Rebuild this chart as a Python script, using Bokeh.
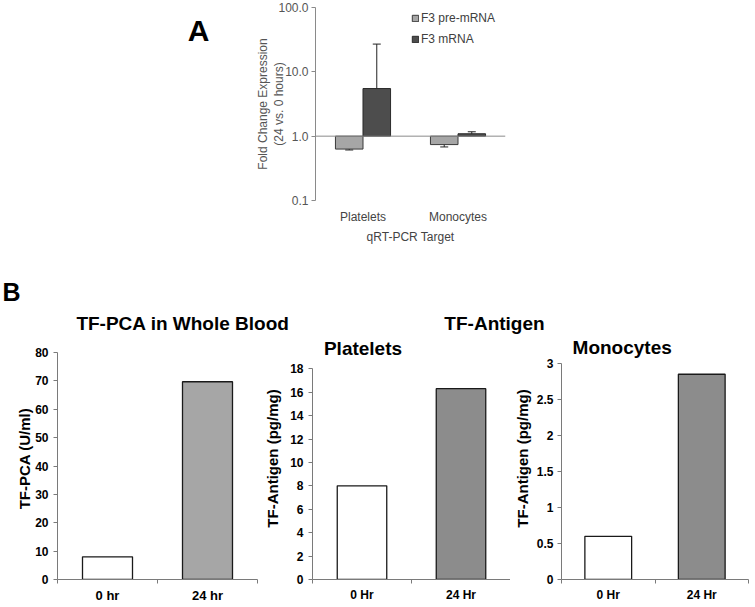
import math
from bokeh.plotting import figure
from bokeh.models import (Range1d, FixedTicker, CustomJSTickFormatter, Span, Whisker, TeeHead,
                          ColumnDataSource, Label, LinearAxis)
from bokeh.layouts import column, row
from bokeh.embed import file_html
from bokeh.resources import INLINE

# ---------------- data ----------------
# Panel A (log scale fold change)
a_categories = ["Platelets", "Monocytes"]
a_series = ["F3 pre-mRNA", "F3 mRNA"]
a_pre = [0.63, 0.74]
a_pre_low = [0.61, 0.68]
a_pre_high = [0.645, 0.85]
a_mrna = [5.5, 1.09]
a_mrna_low = [1.2, 1.02]
a_mrna_high = [27.0, 1.17]
a_yticks = [0.1, 1, 10, 100]

# Panel B
b1_labels = ["0 hr", "24 hr"]
b1_values = [8.0, 69.7]
b1_ticks = [0, 10, 20, 30, 40, 50, 60, 70, 80]
b2_labels = ["0 Hr", "24 Hr"]
b2_values = [8.0, 16.3]
b2_ticks = [0, 2, 4, 6, 8, 10, 12, 14, 16, 18]
b3_labels = ["0 Hr", "24 Hr"]
b3_values = [0.6, 2.85]
b3_ticks = [0, 0.5, 1, 1.5, 2, 2.5, 3]

SANS = "Liberation Sans"

# ---------------- "A" tag ----------------
aHead = figure(width=240, height=250, x_range=Range1d(0, 1), y_range=Range1d(0, 1),
               x_axis_location=None, y_axis_location=None,
               min_border_left=0, min_border_right=0, min_border_top=7, min_border_bottom=50,
               output_backend="svg", toolbar_location=None)
aHead.grid.visible = False
aHead.outline_line_color = None
aHead.add_layout(Label(x=198, y=170, x_units="screen", y_units="screen", text="A",
                       text_font=SANS, text_font_style="bold", text_font_size="30px",
                       text_align="center", text_baseline="middle", text_color="black"))

# ---------------- Panel A ----------------
pA = figure(width=280, height=250, y_axis_type="log",
            x_range=Range1d(0, 2), y_range=Range1d(0.1, 100),
            output_backend="svg", toolbar_location=None,
            min_border_left=75, min_border_right=15, min_border_top=7, min_border_bottom=50)
pA.grid.visible = False
pA.outline_line_color = None

xc = [i + 0.5 for i in range(len(a_categories))]
bw = 0.29
src_pre = ColumnDataSource(dict(x=[v - bw / 2 for v in xc], top=a_pre, lo=a_pre_low, hi=a_pre_high))
src_mrna = ColumnDataSource(dict(x=[v + bw / 2 for v in xc], top=a_mrna, lo=a_mrna_low, hi=a_mrna_high))

pA.vbar(x="x", width=bw, bottom=1, top="top", source=src_pre,
        fill_color="#a6a6a6", line_color="#3a3a3a", line_width=1, legend_label=a_series[0])
pA.vbar(x="x", width=bw, bottom=1, top="top", source=src_mrna,
        fill_color="#4d4d4d", line_color="#2a2a2a", line_width=1, legend_label=a_series[1])

for src in (src_pre, src_mrna):
    pA.add_layout(Whisker(source=src, base="x", upper="hi", lower="lo",
                          line_color="#222222", line_width=1,
                          upper_head=TeeHead(size=8, line_color="#222222", line_width=1),
                          lower_head=TeeHead(size=8, line_color="#222222", line_width=1)))

pA.add_layout(Span(location=1, dimension="width", line_color="#8a8a8a", line_width=1))

yax = pA.yaxis[0]
yax.ticker = FixedTicker(ticks=a_yticks, minor_ticks=[])
yax.formatter = CustomJSTickFormatter(code="return tick.toFixed(1);")
yax.axis_line_color = "#8a8a8a"
yax.major_tick_line_color = "#8a8a8a"
yax.major_tick_out = 4
yax.major_tick_in = 0
yax.major_label_text_font = SANS
yax.major_label_text_font_size = "12px"
yax.major_label_text_color = "#555555"
yax.major_label_standoff = 3
yax.axis_label = "Fold Change Expression\n(24 vs. 0 hours)"
yax.axis_label_text_font = SANS
yax.axis_label_text_font_style = "normal"
yax.axis_label_text_font_size = "12px"
yax.axis_label_text_color = "#555555"
yax.axis_label_standoff = -11

xax = pA.xaxis[0]
xax.ticker = FixedTicker(ticks=xc, minor_ticks=[])
xax.formatter = CustomJSTickFormatter(args=dict(labels=a_categories),
                                      code="return labels[Math.floor(tick)];")
xax.axis_line_color = None
xax.major_tick_line_color = None
xax.minor_tick_line_color = None
xax.major_tick_out = 0
xax.major_tick_in = 0
xax.minor_tick_out = 0
xax.major_label_standoff = 9
xax.major_label_text_font = SANS
xax.major_label_text_font_size = "12px"
xax.major_label_text_color = "#444444"
xax.axis_label = "qRT-PCR Target"
xax.axis_label_text_font = SANS
xax.axis_label_text_font_style = "normal"
xax.axis_label_text_font_size = "12px"
xax.axis_label_text_color = "#444444"
xax.axis_label_standoff = 3

lg = pA.legend[0]
lg.location = (96, 154)
lg.padding = 0
lg.margin = 0
lg.spacing = 7
lg.glyph_width = 8
lg.glyph_height = 8
lg.label_height = 14
lg.label_standoff = 2
lg.label_text_font = SANS
lg.label_text_font_size = "12px"
lg.label_text_color = "#404040"
lg.border_line_alpha = 0
lg.background_fill_alpha = 0

# ---------------- header for panel B ----------------
hdr = figure(width=753, height=86, x_range=Range1d(0, 1), y_range=Range1d(0, 1),
             x_axis_location=None, y_axis_location=None, min_border=0,
             output_backend="svg", toolbar_location=None)
hdr.grid.visible = False
hdr.outline_line_color = None
hdr.add_layout(Label(x=2, y=45, x_units="screen", y_units="screen", text="B",
                     text_font=SANS, text_font_style="bold", text_font_size="25px",
                     text_align="left", text_baseline="middle", text_color="black"))
hdr.add_layout(Label(x=182.5, y=13, x_units="screen", y_units="screen", text="TF-PCA in Whole Blood",
                     text_font=SANS, text_font_style="bold", text_font_size="19px",
                     text_align="center", text_baseline="middle", text_color="black"))
hdr.add_layout(Label(x=494, y=13, x_units="screen", y_units="screen", text="TF-Antigen",
                     text_font=SANS, text_font_style="bold", text_font_size="19px",
                     text_align="center", text_baseline="middle", text_color="black"))

B_HEIGHT = 269
B_TOP = 1
B_BOTTOM = 26


def bar_panel(width, mb_left, mb_right, labels, values, ticks, headroom, fill,
              xlab_size, ylab, ylab_standoff, tick_standoff=5, title=None, title_x=0, title_y=0):
    p = figure(width=width, height=B_HEIGHT, x_range=Range1d(0, 2),
               y_range=Range1d(ticks[0], headroom),
               output_backend="svg", toolbar_location=None,
               min_border_left=mb_left, min_border_right=mb_right,
               min_border_top=B_TOP, min_border_bottom=B_BOTTOM)
    p.grid.visible = False
    p.outline_line_color = None
    xs = [i + 0.5 for i in range(len(labels))]
    src = ColumnDataSource(dict(x=xs, top=values, fill=["white", fill]))
    p.vbar(x="x", width=0.5, bottom=0, top="top", source=src, fill_color="fill",
           line_color="#1a1a1a", line_width=1.3)
    xa = p.xaxis[0]
    xa.ticker = FixedTicker(ticks=xs, minor_ticks=[0, 1, 2])
    xa.formatter = CustomJSTickFormatter(args=dict(labels=labels),
                                         code="return labels[Math.floor(tick)];")
    xa.axis_line_color = "#7a7a7a"
    xa.major_tick_out = 0
    xa.major_tick_in = 0
    xa.minor_tick_out = 4
    xa.minor_tick_in = 0
    xa.minor_tick_line_color = "#7a7a7a"
    xa.major_label_standoff = 4
    xa.major_label_text_font = SANS
    xa.major_label_text_font_style = "bold"
    xa.major_label_text_font_size = xlab_size
    xa.major_label_text_color = "black"
    ya = p.yaxis[0]
    ya.bounds = (ticks[0], ticks[-1])
    ya.ticker = FixedTicker(ticks=ticks, minor_ticks=[])
    ya.formatter = CustomJSTickFormatter(code="return String(tick);")
    ya.axis_line_color = "#7a7a7a"
    ya.major_tick_line_color = "#7a7a7a"
    ya.major_tick_out = 4
    ya.major_tick_in = 0
    ya.major_label_standoff = tick_standoff
    ya.major_label_text_font = SANS
    ya.major_label_text_font_style = "bold"
    ya.major_label_text_font_size = "12px"
    ya.major_label_text_color = "black"
    if ylab:
        ya.axis_label = ylab
        ya.axis_label_text_font = SANS
        ya.axis_label_text_font_style = "bold"
        ya.axis_label_text_font_size = "15px"
        ya.axis_label_text_color = "black"
        ya.axis_label_standoff = ylab_standoff
    if title:
        p.add_layout(Label(x=title_x, y=title_y, x_units="screen", y_units="screen", text=title,
                           text_font=SANS, text_font_style="bold", text_font_size="19px",
                           text_align="center", text_baseline="middle", text_color="black"))
    return p


b1 = bar_panel(258, 57, 1, b1_labels, b1_values, b1_ticks, 85.3, "#a6a6a6", "13px",
               None, 0)
# title axis for panel B1 (label sits lower than the axis middle, as in the original)
b1_title_axis = LinearAxis(ticker=FixedTicker(ticks=[], minor_ticks=[]), bounds=(0, 62),
                           axis_line_color=None, major_tick_line_color=None,
                           minor_tick_line_color=None, major_tick_out=0, major_tick_in=0,
                           minor_tick_out=0, minor_tick_in=0,
                           axis_label="TF-PCA (U/ml)", axis_label_text_font=SANS,
                           axis_label_text_font_style="bold", axis_label_text_font_size="15px",
                           axis_label_text_color="black", axis_label_standoff=0)
b1.add_layout(b1_title_axis, "left")

b2 = bar_panel(252, 54, 0, b2_labels, b2_values, b2_ticks, 20.67, "#8c8c8c", "12px",
               "TF-Antigen (pg/mg)", 6, title="Platelets", title_x=50.5, title_y=231)
b3 = bar_panel(243, 51, 5, b3_labels, b3_values, b3_ticks, 3.36, "#8c8c8c", "12px",
               "TF-Antigen (pg/mg)", 3, tick_standoff=4, title="Monocytes", title_x=60.7, title_y=232)

layout = column(row(aHead, pA), hdr, row(b1, b2, b3))

open("out.html", "w").write(file_html(layout, INLINE))
